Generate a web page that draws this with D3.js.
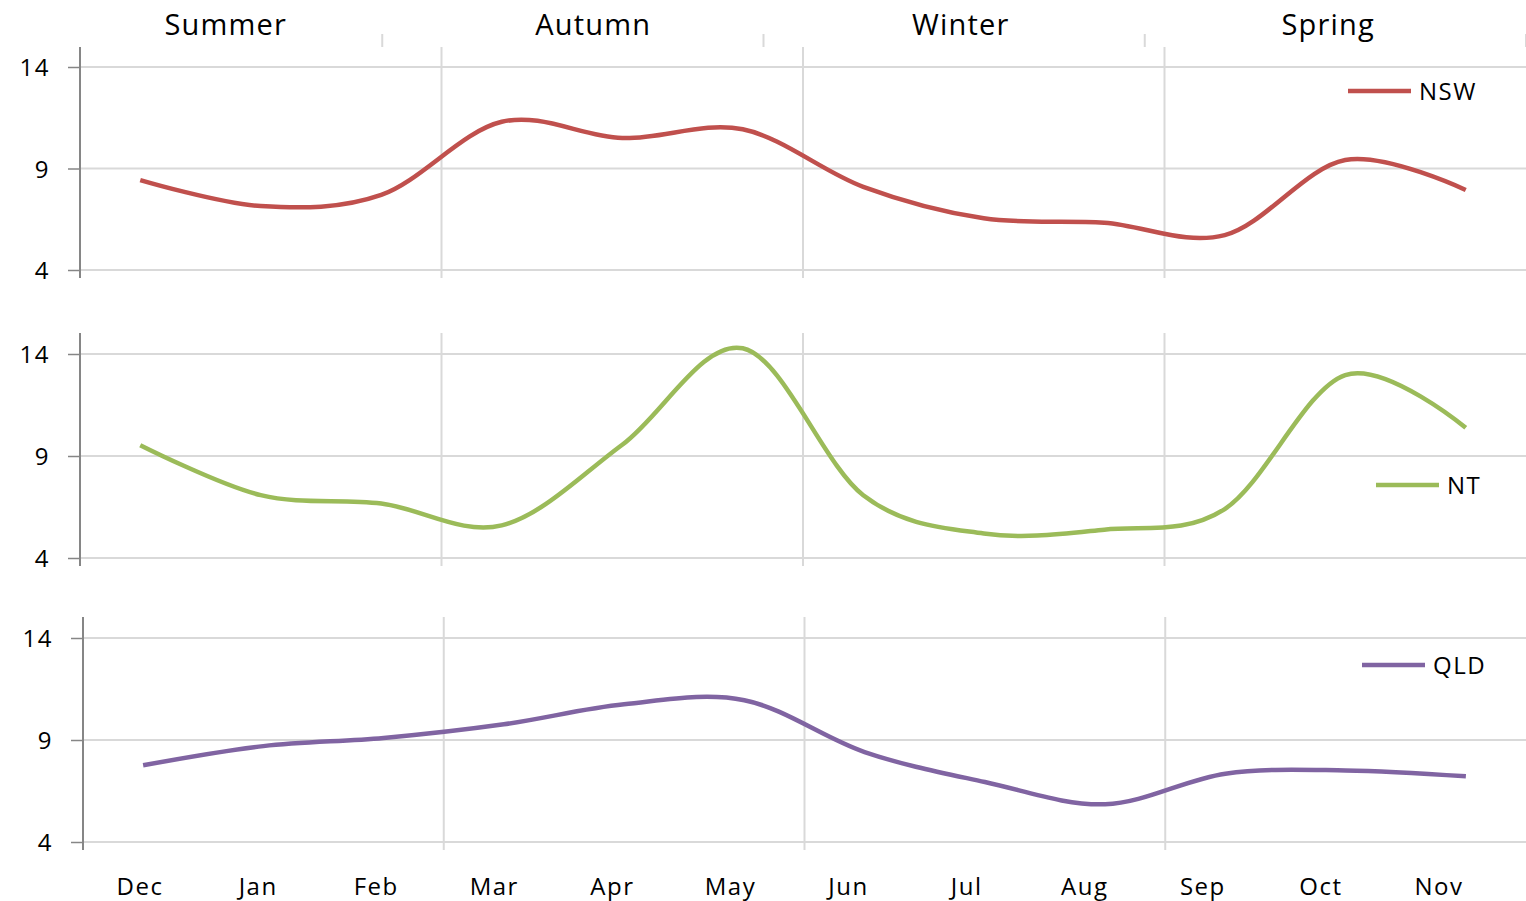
<!DOCTYPE html>
<html>
<head>
<meta charset="utf-8">
<script src="https://cdn.jsdelivr.net/npm/d3@7"></script>
<style>
  body { margin: 0; background: #fff; }
  text { font-family: "Open Sans", sans-serif; fill: #000; letter-spacing: 1.5px; }
</style>
</head>
<body>
<script>
const width = 1526;
const height = 901;

// data
const months = ["Dec", "Jan", "Feb", "Mar", "Apr", "May", "Jun", "Jul", "Aug", "Sep", "Oct", "Nov"];
const seasons = ["Summer", "Autumn", "Winter", "Spring"];
const nsw = [8.43, 7.15, 7.7, 11.3, 10.5, 10.93, 8.1, 6.55, 6.33, 5.72, 9.42, 7.94];
const nt = [9.53, 7.08, 6.67, 5.6, 9.55, 14.28, 7.08, 5.2, 5.39, 6.4, 12.97, 10.38];
const qld = [7.76, 8.7, 9.1, 9.77, 10.75, 10.95, 8.41, 6.94, 5.85, 7.35, 7.51, 7.22];
const seriesNames = ["NSW", "NT", "QLD"];
const yTicks = [4, 9, 14];

const seriesValues = [nsw, nt, qld];
const colors = ["#C0504D", "#9BBB59", "#8064A2"];

// layout of the three stacked panels
const panels = [
  { left: 80, top: 47, yTop: 67, yBottom: 270, bottom: 278, legendX: 1348, legendY: 91 },
  { left: 80, top: 333, yTop: 354, yBottom: 558, bottom: 566, legendX: 1376, legendY: 485 },
  { left: 83, top: 617, yTop: 638, yBottom: 842, bottom: 850, legendX: 1362, legendY: 665 }
];

const svg = d3.select("body").append("svg")
  .attr("width", width)
  .attr("height", height);

// season header
const seasonLabelX = d3.scaleBand().domain(seasons).range([42, 1512]);
const seasonTickX = d3.scaleBand().domain(seasons).range([1, 1526]);

svg.append("g")
  .selectAll("text")
  .data(seasons)
  .join("text")
  .attr("x", d => seasonLabelX(d) + seasonLabelX.bandwidth() / 2)
  .attr("y", 35)
  .attr("text-anchor", "middle")
  .style("font-size", "29px")
  .style("letter-spacing", "1.2px")
  .text(d => d);

svg.append("g")
  .selectAll("line")
  .data(seasons)
  .join("line")
  .attr("x1", d => seasonTickX(d) + seasonTickX.bandwidth())
  .attr("x2", d => seasonTickX(d) + seasonTickX.bandwidth())
  .attr("y1", 34)
  .attr("y2", 47)
  .attr("stroke", "#d9d9d9")
  .attr("stroke-width", 2);

panels.forEach((p, i) => {
  const x = d3.scaleBand().domain(months).range([p.left, width]);
  const y = d3.scaleLinear().domain([4, 14]).range([p.yBottom, p.yTop]);
  const g = svg.append("g");

  // horizontal gridlines
  g.selectAll(".hgrid")
    .data(yTicks)
    .join("line")
    .attr("class", "hgrid")
    .attr("x1", p.left)
    .attr("x2", width)
    .attr("y1", d => y(d))
    .attr("y2", d => y(d))
    .attr("stroke", "#d9d9d9")
    .attr("stroke-width", 2);

  // vertical gridlines at season boundaries
  g.selectAll(".vgrid")
    .data([months[3], months[6], months[9]])
    .join("line")
    .attr("class", "vgrid")
    .attr("x1", d => x(d))
    .attr("x2", d => x(d))
    .attr("y1", p.top)
    .attr("y2", p.bottom)
    .attr("stroke", "#d9d9d9")
    .attr("stroke-width", 2);

  // y axis
  const axis = g.append("g")
    .attr("transform", `translate(${p.left},0)`)
    .call(d3.axisLeft(y).tickValues(yTicks).tickSize(12).tickPadding(18).tickSizeOuter(0));
  axis.select(".domain").remove();
  axis.selectAll(".tick line").attr("stroke", "#868686").attr("stroke-width", 1.5);
  axis.selectAll(".tick text")
    .style("font-size", "24px")
    .style("font-family", "'Open Sans', sans-serif")
    .attr("fill", "#000")
    .attr("dy", "0.36em");

  g.append("line")
    .attr("x1", p.left)
    .attr("x2", p.left)
    .attr("y1", p.top)
    .attr("y2", p.bottom)
    .attr("stroke", "#868686")
    .attr("stroke-width", 2);

  // series line
  const line = d3.line()
    .x((d, j) => x(months[j]) + x.bandwidth() / 2)
    .y(d => y(d))
    .curve(d3.curveCardinal.tension(0));

  g.append("path")
    .datum(seriesValues[i])
    .attr("fill", "none")
    .attr("stroke", colors[i])
    .attr("stroke-width", 4.5)
    .attr("stroke-linecap", "butt")
    .attr("d", line);

  // legend
  g.append("line")
    .attr("x1", p.legendX)
    .attr("x2", p.legendX + 63)
    .attr("y1", p.legendY)
    .attr("y2", p.legendY)
    .attr("stroke", colors[i])
    .attr("stroke-width", 4.5);

  g.append("text")
    .attr("x", p.legendX + 71)
    .attr("y", p.legendY)
    .attr("dy", "0.36em")
    .style("font-size", "24px")
    .text(seriesNames[i]);
});

// month labels along the bottom
const monthX = d3.scaleBand().domain(months).range([81, 1498]);

svg.append("g")
  .selectAll("text")
  .data(months)
  .join("text")
  .attr("x", d => monthX(d) + monthX.bandwidth() / 2)
  .attr("y", 895)
  .attr("text-anchor", "middle")
  .style("font-size", "24px")
  .text(d => d);
</script>
</body>
</html>
